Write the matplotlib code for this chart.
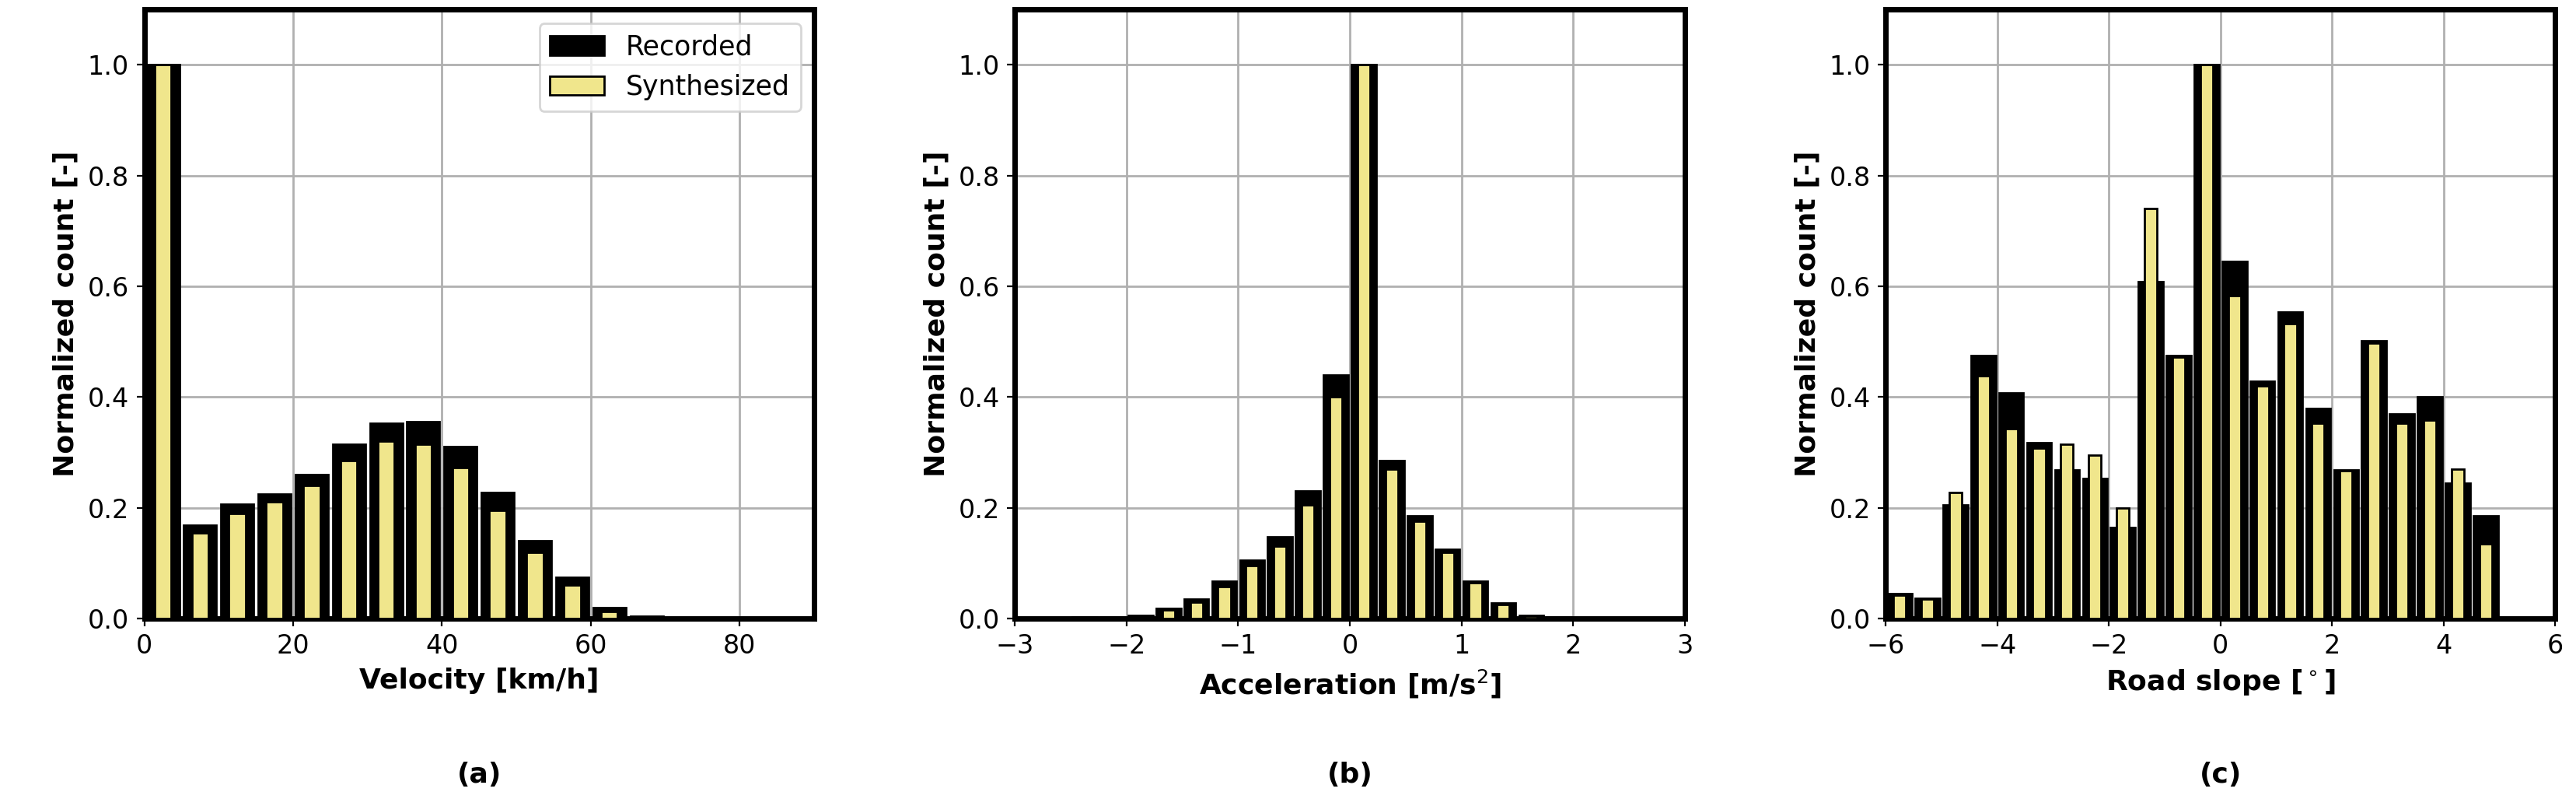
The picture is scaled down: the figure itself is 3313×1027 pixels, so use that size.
import numpy as np
import matplotlib
matplotlib.use('Agg')
import matplotlib.pyplot as plt

# velocity histogram, bins of 5 km/h from 0 to 90
vel_edges = np.arange(0, 95, 5)
vel_recorded = [1.0, 0.168, 0.207, 0.225, 0.26, 0.315, 0.352, 0.356, 0.31, 0.228,
                0.14, 0.075, 0.02, 0.004, 0, 0, 0, 0]
vel_synth = [1.0, 0.155, 0.19, 0.21, 0.24, 0.285, 0.32, 0.315, 0.272, 0.195,
             0.12, 0.06, 0.012, 0.002, 0, 0, 0, 0]

# acceleration histogram, bins of 0.25 m/s^2 from -3 to 3
acc_edges = np.arange(-3, 3.25, 0.25)
acc_recorded = [0, 0, 0.002, 0.002, 0.005, 0.018, 0.035, 0.068, 0.105, 0.148, 0.23, 0.44,
                1.0, 0.285, 0.185, 0.125, 0.068, 0.028, 0.006, 0.002, 0.001, 0, 0, 0]
acc_synth = [0, 0, 0.001, 0.001, 0.003, 0.016, 0.03, 0.058, 0.095, 0.13, 0.205, 0.4,
             1.0, 0.27, 0.175, 0.12, 0.065, 0.025, 0.004, 0.001, 0, 0, 0, 0]

# road slope histogram, bins of 0.5 deg from -6 to 5
slope_edges = np.arange(-6, 5.5, 0.5)
slope_recorded = [0.045, 0.037, 0.205, 0.475, 0.408, 0.318, 0.268, 0.253, 0.165, 0.608, 0.475,
                  1.0, 0.645, 0.428, 0.553, 0.38, 0.268, 0.502, 0.37, 0.4, 0.245, 0.185]
slope_synth = [0.042, 0.035, 0.228, 0.438, 0.343, 0.308, 0.315, 0.295, 0.2, 0.74, 0.472,
               1.0, 0.583, 0.42, 0.532, 0.352, 0.267, 0.497, 0.352, 0.358, 0.27, 0.135]

panels = [
    (vel_edges, vel_recorded, vel_synth, 'Velocity [km/h]', '(a)', (0, 90), [0, 20, 40, 60, 80]),
    (acc_edges, acc_recorded, acc_synth, 'Acceleration [m/s$^2$]', '(b)', (-3, 3), [-3, -2, -1, 0, 1, 2, 3]),
    (slope_edges, slope_recorded, slope_synth, 'Road slope [$^\\circ$]', '(c)', (-6, 6), [-6, -4, -2, 0, 2, 4, 6]),
]

fig, axes = plt.subplots(1, 3, figsize=(16.565, 5.135), dpi=200)
plt.subplots_adjust(left=0.056, right=0.992, top=0.988, bottom=0.226, wspace=0.3)

for ax, (edges, rec, syn, xlabel, tag, xlim, xticks) in zip(axes, panels):
    edges = np.asarray(edges, dtype=float)
    centers = (edges[:-1] + edges[1:]) / 2
    step = edges[1] - edges[0]
    ax.hist(centers, bins=edges, weights=rec, rwidth=0.88, color='black',
            edgecolor='black', linewidth=1, label='Recorded', zorder=2)
    ax.hist(centers, bins=edges, weights=syn, rwidth=0.45, color='khaki',
            edgecolor='black', linewidth=1, label='Synthesized', zorder=3)
    ax.set_xlim(*xlim)
    ax.set_xticks(xticks)
    ax.set_ylim(0, 1.1)
    ax.set_yticks([0, 0.2, 0.4, 0.6, 0.8, 1.0])
    ax.grid(True, color='#b0b0b0', linewidth=1, zorder=0)
    ax.set_axisbelow(True)
    for s in ax.spines.values():
        s.set_linewidth(2.5)
    ax.tick_params(labelsize=12)
    ax.set_xlabel(xlabel, fontsize=13, fontweight='bold')
    ax.set_ylabel('Normalized count [-]', fontsize=13, fontweight='bold')
    ax.text(0.5, -0.235, tag, transform=ax.transAxes, ha='center', va='top',
            fontsize=13, fontweight='bold')

axes[0].legend(loc='upper right', fontsize=12.5)

plt.savefig('out.png', dpi=200)
